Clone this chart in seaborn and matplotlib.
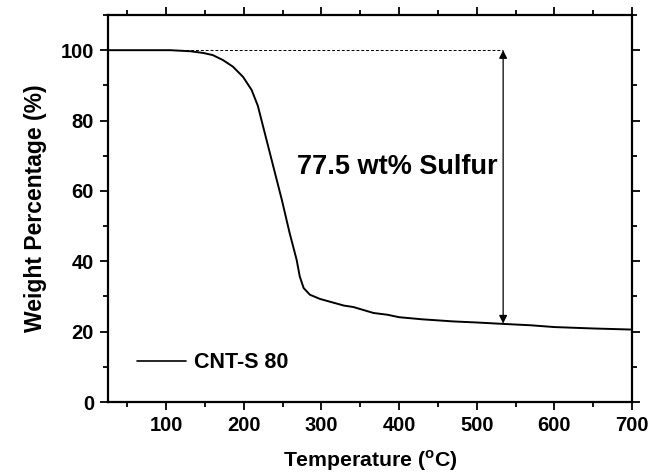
import matplotlib
matplotlib.use("Agg")
import matplotlib.pyplot as plt
import seaborn as sns
import pandas as pd
from matplotlib.ticker import MultipleLocator

temperature = [25, 60, 105, 131, 148, 160, 173, 186, 199, 210, 218, 227, 238,
               249, 259, 268, 272, 277, 285, 298, 311, 329, 341, 367, 385, 400,
               430, 470, 500, 534, 570, 600, 650, 698]
weight = [100.0, 100.0, 100.0, 99.7, 99.2, 98.6, 97.2, 95.3, 92.4, 88.7, 84.2,
          76.4, 66.9, 57.4, 48.0, 40.4, 35.7, 32.4, 30.5, 29.3, 28.5, 27.4, 27.0,
          25.3, 24.8, 24.1, 23.5, 22.9, 22.6, 22.2, 21.8, 21.3, 20.9, 20.6]
series_label = "CNT-S 80"
annot_text = "77.5 wt% Sulfur"
arrow_x = 534
arrow_top = 100
arrow_bottom = 22.3
x_ticks = [100, 200, 300, 400, 500, 600, 700]
y_ticks = [0, 20, 40, 60, 80, 100]

sns.set_style("ticks")
plt.rcParams["font.family"] = ["Liberation Sans", "DejaVu Sans"]
plt.rcParams["font.weight"] = "bold"
plt.rcParams["mathtext.fontset"] = "custom"
plt.rcParams["mathtext.rm"] = "Liberation Sans:bold"
plt.rcParams["mathtext.bf"] = "Liberation Sans:bold"
for key in ["text.color", "axes.labelcolor", "xtick.color", "ytick.color",
            "axes.edgecolor"]:
    plt.rcParams[key] = "black"

df = pd.DataFrame({"Temperature": temperature, "Weight": weight, "Sample": series_label})

fig = plt.figure(figsize=(6.52, 4.76), dpi=100)
ax = fig.add_axes([108/652, 1-402/476, (632-108)/652, (402-15)/476])

sns.lineplot(data=df, x="Temperature", y="Weight", hue="Sample",
             palette=["black"], linewidth=1.4, ax=ax, sort=False)

# dashed reference line and double arrow
ax.plot([25, arrow_x], [arrow_top, arrow_top], ls=(0, (3, 2)), color="black", lw=0.7)
ax.annotate("", xy=(arrow_x, arrow_bottom), xytext=(arrow_x, arrow_top),
            arrowprops=dict(arrowstyle="<|-|>", color="black", lw=0.9,
                            mutation_scale=12, shrinkA=0, shrinkB=0))
ax.text(398, 66.8, annot_text, ha="center", va="center", fontsize=19.5,
        fontweight="bold", color="black")

ax.set_xlim(25, 700)
ax.set_ylim(0, 110)
ax.set_xticks(x_ticks)
ax.set_yticks(y_ticks)
ax.xaxis.set_minor_locator(MultipleLocator(50))
ax.yaxis.set_minor_locator(MultipleLocator(10))
ax.tick_params(which="both", direction="out", top=True, right=True,
               labeltop=False, labelright=False, width=1.3, colors="black")
ax.tick_params(which="major", length=6, labelsize=14.5, pad=4)
ax.tick_params(which="minor", length=3.5)
for lab in ax.get_xticklabels() + ax.get_yticklabels():
    lab.set_fontweight("bold")
for s in ax.spines.values():
    s.set_visible(True)
    s.set_linewidth(1.6)
    s.set_color("black")

ax.set_xlabel(r"Temperature ($^{\mathrm{o}}$C)", fontsize=15.3, fontweight="bold",
              labelpad=10, color="black")
ax.set_ylabel("Weight Percentage (%)", fontsize=16.5, fontweight="bold",
              labelpad=10, color="black")

leg = ax.legend(loc="center left", bbox_to_anchor=(0.055, 0.1016), frameon=False,
                handlelength=2.3, handletextpad=0.37, borderpad=0, borderaxespad=0,
                prop={"weight": "bold", "size": 15.5})
for line in leg.get_lines():
    line.set_linewidth(1.2)
for t in leg.get_texts():
    t.set_color("black")

fig.savefig("out.png", dpi=100)
